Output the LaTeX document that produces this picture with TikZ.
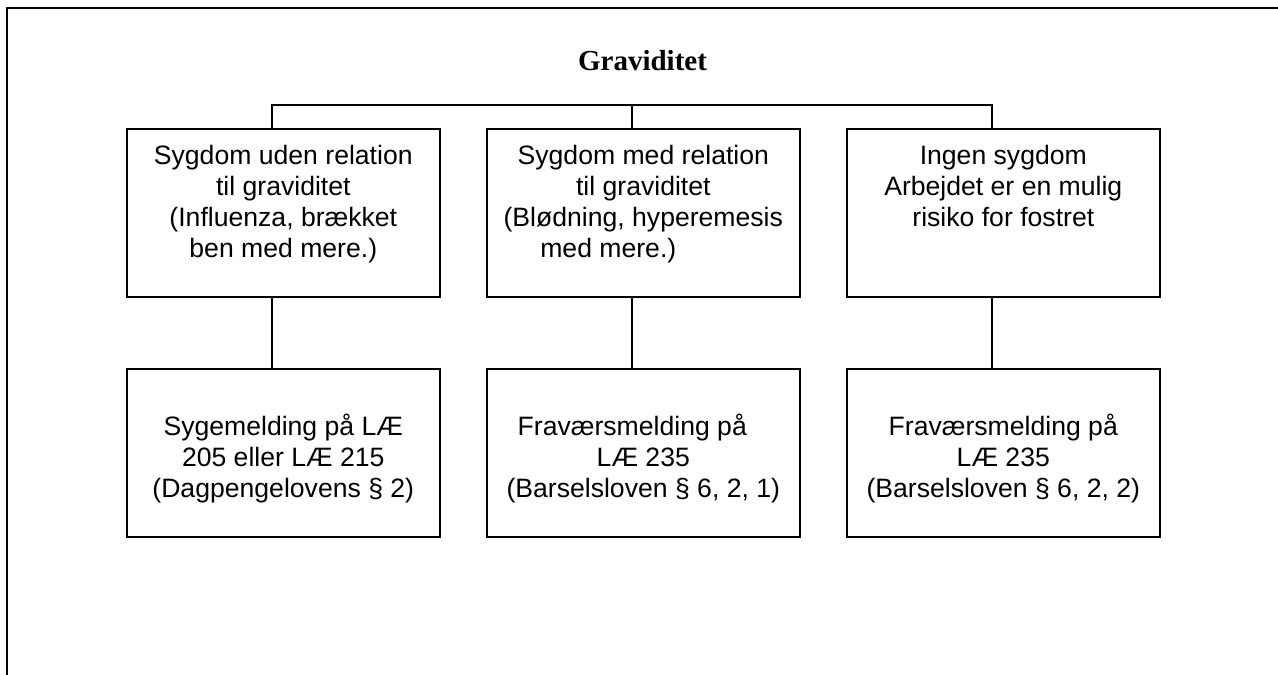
\documentclass[tikz,border=0pt]{standalone}
\usepackage{fontspec}
\setmainfont{Liberation Sans}
\newfontfamily\titlefont{Liberation Serif}
\begin{document}
\begin{tikzpicture}[x=1pt,y=-1pt,
  box/.style={draw, line width=2pt, minimum width=313pt, minimum height=168pt, inner sep=0pt},
  lbl/.style={align=center, font=\fontsize{26.6}{31}\selectfont, inner sep=0pt, anchor=base},
  wire/.style={line width=1.8pt},
  frame/.style={line width=2.2pt}]
\useasboundingbox (0,0) rectangle (1278,675);
% frame (top and left edges only)
\coordinate (fl) at (7,675);
\coordinate (fc) at (7,8);
\coordinate (fr) at (1280,8);
\draw[frame] (fl) -- (fc) -- (fr);
% title
\node[font=\titlefont\bfseries\fontsize{29}{34}\selectfont, anchor=base, inner sep=0pt] (title) at (642.5,70) {Graviditet};
% upper boxes
\node[box] (b1) at (283.3,212.5) {};
\node[box] (b2) at (643.3,212.5) {};
\node[box] (b3) at (1003.3,212.5) {};
% lower boxes
\node[box] (c1) at (283.3,452.8) {};
\node[box] (c2) at (643.3,452.8) {};
\node[box] (c3) at (1003.3,452.8) {};
% junctions
\coordinate (j1) at (271.7,105);
\coordinate (j2) at (631.7,105);
\coordinate (j3) at (991.7,105);
\draw[wire] (j1 |- b1.north) -- (j1) -- (j3) -- (j3 |- b3.north);
\draw[wire] (j2) -- (j2 |- b2.north);
\draw[wire] (b1.south -| j1) -- (c1.north -| j1);
\draw[wire] (b2.south -| j2) -- (c2.north -| j2);
\draw[wire] (b3.south -| j3) -- (c3.north -| j3);
% texts (anchor base = baseline of the last line)
\node[lbl] (t1) at (283.3,257) {Sygdom uden relation\\til graviditet\\(Influenza, brækket\\ben med mere.)};
\node[lbl] (t2) at (643.3,257) {Sygdom med relation\\til graviditet\\(Blødning, hyperemesis\\med mere.)\hspace*{70pt}};
\node[lbl] (t3) at (1003.3,226) {Ingen sygdom\\Arbejdet er en mulig\\risiko for fostret};
\node[lbl] (u1) at (283.3,497) {Sygemelding på LÆ\\205 eller LÆ 215\\(Dagpengelovens § 2)};
\node[lbl] (u2) at (643.3,497) {Fraværsmelding på\hspace*{22pt}\\LÆ 235\hspace*{22pt}\\(Barselsloven § 6, 2, 1)};
\node[lbl] (u3) at (1003.3,497) {Fraværsmelding på\\LÆ 235\\(Barselsloven § 6, 2, 2)};
\end{tikzpicture}
\end{document}
